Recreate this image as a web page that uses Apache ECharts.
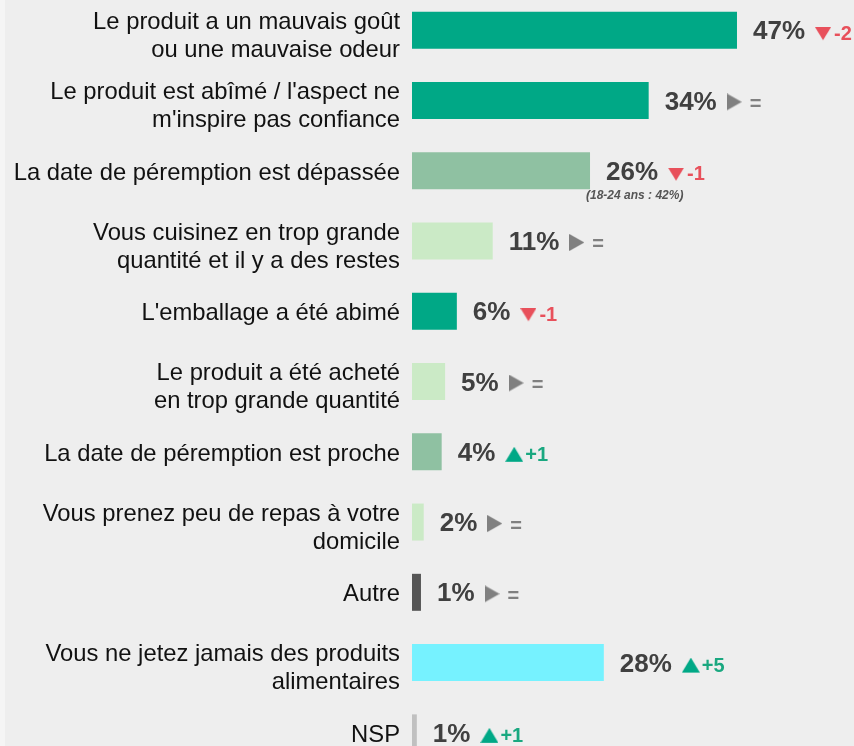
<!DOCTYPE html>
<html>
<head>
<meta charset="utf-8">
<script src="https://cdn.jsdelivr.net/npm/echarts@6/dist/echarts.min.js"></script>
<style>
html,body{margin:0;padding:0;background:#eeeeee;}
#chart{width:854px;height:746px;}
</style>
</head>
<body>
<div id="chart"></div>
<script>
const categories = [
  "Le produit a un mauvais goût\nou une mauvaise odeur",
  "Le produit est abîmé / l'aspect ne\nm'inspire pas confiance",
  "La date de péremption est dépassée",
  "Vous cuisinez en trop grande\nquantité et il y a des restes",
  "L'emballage a été abimé",
  "Le produit a été acheté\nen trop grande quantité",
  "La date de péremption est proche",
  "Vous prenez peu de repas à votre\ndomicile",
  "Autre",
  "Vous ne jetez jamais des produits\nalimentaires",
  "NSP"
];
const values = [47.1, 34.3, 25.8, 11.7, 6.5, 4.8, 4.3, 1.7, 1.3, 27.8, 0.7];
const shown = [47, 34, 26, 11, 6, 5, 4, 2, 1, 28, 1];
const changes = ["-2", "=", "-1", "=", "-1", "=", "+1", "=", "=", "+5", "+1"];
const notes = ["", "", "(18-24 ans : 42%)", "", "", "", "", "", "", "", ""];
const barColors = ["#00a886", "#00a886", "#8fc1a2", "#cbeac6", "#00a886", "#cbeac6", "#8fc1a2", "#cbeac6", "#555555", "#76f2ff", "#c0c0c0"];

const FONT = "'Liberation Sans', Arial, sans-serif";
const RED = '#e8505b', GREEN = '#00a886', GREY = '#808080';

// triangle glyph images (drawn on canvas, transparent strip below = baseline offset)
function triangle(dir, w, h, color, below) {
  const c = document.createElement('canvas');
  c.width = w; c.height = h + below;
  const ctx = c.getContext('2d');
  ctx.fillStyle = color;
  ctx.beginPath();
  if (dir === 'down') { ctx.moveTo(0, 0); ctx.lineTo(w, 0); ctx.lineTo(w / 2, h); }
  else if (dir === 'up') { ctx.moveTo(0, h); ctx.lineTo(w, h); ctx.lineTo(w / 2, 0); }
  else { ctx.moveTo(0, 0); ctx.lineTo(w, h / 2); ctx.lineTo(0, h); }
  ctx.closePath();
  ctx.fill();
  return c;
}
const BELOW = 5;
const imgDown = triangle('down', 16, 13, RED, BELOW);
const imgUp = triangle('up', 18, 15, GREEN, BELOW);
const imgRight = triangle('right', 15, 17, GREY, BELOW);

const chart = echarts.init(document.getElementById('chart'), null, {renderer: 'canvas'});

function trendLabel(i) {
  const c = changes[i];
  let key;
  if (c.startsWith('-')) key = 'dn';
  else if (c.startsWith('+')) key = 'up';
  else key = 'eq';
  return `{v|${shown[i]}%}{g|}{t${key}|}{s${key}|}{c${key}|${c}}`;
}

function categoryLabel(text) {
  const lines = text.split('\n');
  const pad = lines.length > 1 ? '{p2|}' : '{p1|}';
  return pad + '\n' + lines.map(l => `{t|${l}}`).join('\n');
}

const changeStyle = color => ({
  fontFamily: FONT, fontSize: 20, fontWeight: 'bold', color: color,
  verticalAlign: 'bottom', padding: [0, 0, 1, 0]
});

const option = {
  backgroundColor: '#eeeeee',
  animation: false,
  graphic: [{
    type: 'rect', left: 0, top: 0, z: -1,
    shape: {width: 5, height: 746},
    style: {fill: '#f5f5f5'}
  }],
  grid: {left: 412, top: -5, width: 414, height: 773, containLabel: false, outerBoundsMode: 'none'},
  xAxis: {
    type: 'value', min: 0, max: 60, show: false
  },
  yAxis: {
    type: 'category', inverse: true, data: categories,
    axisLine: {show: false}, axisTick: {show: false}, splitLine: {show: false},
    axisLabel: {
      margin: 12, align: 'right',
      formatter: categoryLabel,
      rich: {
        t: {color: '#111111', fontFamily: FONT, fontSize: 23.8, lineHeight: 28, align: 'right'},
        p1: {height: 5, lineHeight: 5, width: 1},
        p2: {height: 12, lineHeight: 12, width: 1}
      }
    }
  },
  series: [
    {
      type: 'bar', data: values.map((v, i) => ({value: v, itemStyle: {color: barColors[i]}})),
      barWidth: 37,
      label: {
        show: true, position: 'right', distance: 16, offset: [0, 2],
        formatter: p => trendLabel(p.dataIndex),
        rich: {
          v: {fontFamily: FONT, fontSize: 26, fontWeight: 'bold', color: '#404040', verticalAlign: 'bottom'},
          g: {width: 10, height: 1, verticalAlign: 'bottom'},
          tdn: {width: 16, height: 13 + BELOW, backgroundColor: {image: imgDown}, verticalAlign: 'bottom'},
          tup: {width: 18, height: 15 + BELOW, backgroundColor: {image: imgUp}, verticalAlign: 'bottom'},
          teq: {width: 15, height: 17 + BELOW, backgroundColor: {image: imgRight}, verticalAlign: 'bottom'},
          sdn: {width: 3, height: 1, verticalAlign: 'bottom'},
          sup: {width: 2, height: 1, verticalAlign: 'bottom'},
          seq: {width: 8, height: 1, verticalAlign: 'bottom'},
          cdn: changeStyle(RED),
          cup: changeStyle('#1aa880'),
          ceq: changeStyle(GREY)
        }
      }
    },
    {
      type: 'bar', data: values, barWidth: 37, barGap: '-100%', silent: true, z: 1,
      itemStyle: {color: 'rgba(0,0,0,0)'},
      label: {
        show: true, position: ['100%', '100%'], offset: [-4, 1],
        align: 'left', verticalAlign: 'top',
        formatter: p => notes[p.dataIndex],
        fontFamily: FONT, fontSize: 12, fontWeight: 'bold', fontStyle: 'italic', color: '#555555'
      }
    }
  ]
};
chart.setOption(option);
</script>
</body>
</html>
